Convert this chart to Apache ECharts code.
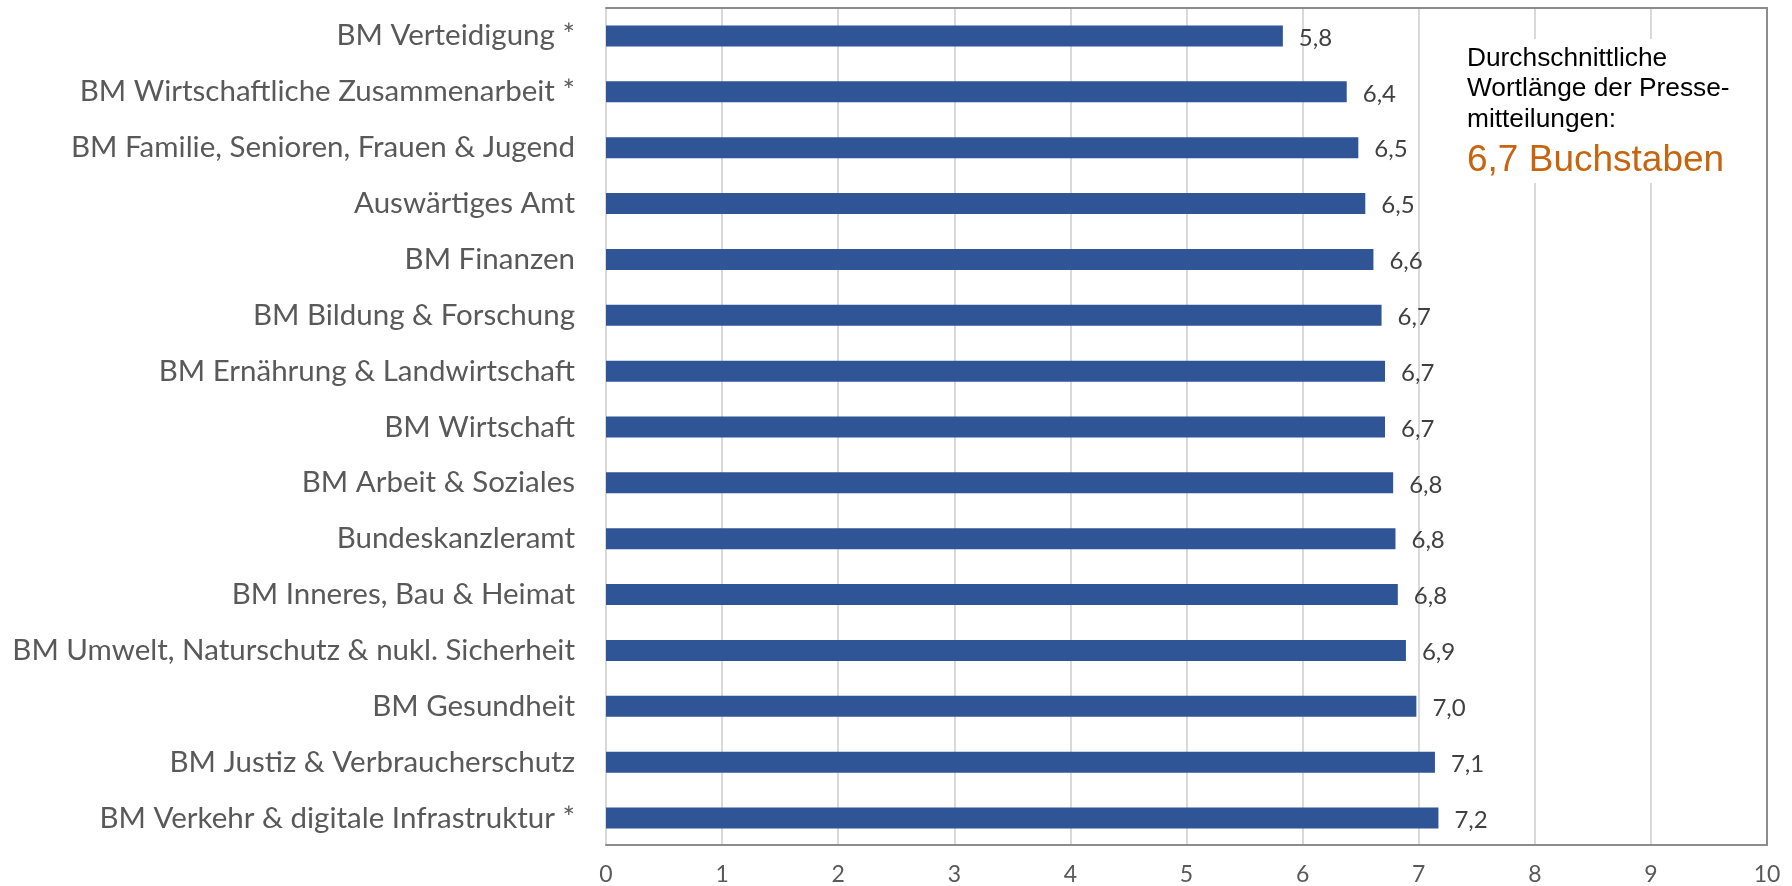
<!DOCTYPE html>
<html><head><meta charset="utf-8">
<script src="https://cdn.jsdelivr.net/npm/echarts@6/dist/echarts.min.js"></script>
<style>html,body{margin:0;padding:0;background:#fff}#c{width:1792px;height:886px}</style>
</head><body><div id="c"></div>
<script>
const categories = [
  'BM Verteidigung *',
  'BM Wirtschaftliche Zusammenarbeit *',
  'BM Familie, Senioren, Frauen & Jugend',
  'Auswärtiges Amt',
  'BM Finanzen',
  'BM Bildung & Forschung',
  'BM Ernährung & Landwirtschaft',
  'BM Wirtschaft',
  'BM Arbeit & Soziales',
  'Bundeskanzleramt',
  'BM Inneres, Bau & Heimat',
  'BM Umwelt, Naturschutz & nukl. Sicherheit',
  'BM Gesundheit',
  'BM Justiz & Verbraucherschutz',
  'BM Verkehr & digitale Infrastruktur *'
];
const values = [5.83, 6.38, 6.48, 6.54, 6.61, 6.68, 6.71, 6.71, 6.78, 6.80, 6.82, 6.89, 6.98, 7.14, 7.17];
const xMin = 0, xMax = 10, xStep = 1;
const noteLines = ['Durchschnittliche', 'Wortlänge der Presse-', 'mitteilungen:'];
const noteValue = '6,7 Buchstaben';

// fit category label font to reference width of longest label
const cv = document.createElement('canvas').getContext('2d');
cv.font = '100px Lato';
let maxW = 0;
categories.forEach(c => { maxW = Math.max(maxW, cv.measureText(c).width); });
const catFont = Math.round(562 / maxW * 100 * 10) / 10;

const chart = echarts.init(document.getElementById('c'), null, {renderer: 'canvas'});
const border = {show: true, onZero: false, lineStyle: {color: '#8c8c8c', width: 2}};
const noteY = [58.3, 88.3, 120];
const graphics = [{
  type: 'rect', z: 1, shape: {x: 1450, y: 39, width: 315, height: 144},
  style: {fill: '#fff'}
}];
noteLines.forEach((t, i) => graphics.push({
  type: 'text', z: 2, x: 1467, y: noteY[i],
  style: {text: t, fill: '#000', font: '26.3px "Liberation Sans", Arial, sans-serif', verticalAlign: 'middle'}
}));
graphics.push({
  type: 'text', z: 2, x: 1467, y: 160.7,
  style: {text: noteValue, fill: '#C7640F', font: '37px "Liberation Sans", Arial, sans-serif', verticalAlign: 'middle'}
});

chart.setOption({
  animation: false,
  backgroundColor: '#fff',
  grid: [
    {left: 606, right: 25, top: 8, height: 838},
    {left: 606, right: 25, top: 8, bottom: 31}
  ],
  xAxis: [
    {gridIndex: 0, type: 'value', min: xMin, max: xMax, show: false},
    {gridIndex: 1, type: 'value', min: xMin, max: xMax, interval: xStep, position: 'bottom',
      axisLine: border, axisTick: {show: false},
      axisLabel: {color: '#595959', fontFamily: 'Lato', fontSize: 23, margin: 18},
      splitLine: {show: true, lineStyle: {color: '#d9d9d9', width: 2}}},
    {gridIndex: 1, type: 'value', min: xMin, max: xMax, position: 'top',
      axisLine: border, axisTick: {show: false}, axisLabel: {show: false}, splitLine: {show: false}}
  ],
  yAxis: [
    {gridIndex: 0, type: 'category', data: categories, inverse: true,
      axisLine: {show: false}, axisTick: {show: false}, splitLine: {show: false},
      axisLabel: {color: '#595959', fontFamily: 'Lato', fontSize: catFont, margin: 31}},
    {gridIndex: 1, type: 'value', min: 0, max: 1, position: 'right',
      axisLine: border, axisTick: {show: false}, axisLabel: {show: false}, splitLine: {show: false}}
  ],
  series: [{
    type: 'bar', xAxisIndex: 0, yAxisIndex: 0, data: values, barWidth: 21, z: 3,
    itemStyle: {color: '#2F5597'},
    label: {show: true, position: 'right', distance: 16, offset: [0, 2], color: '#404040', fontFamily: 'Lato', fontSize: 24,
      formatter: p => p.value.toFixed(1).replace('.', ',')}
  }],
  graphic: graphics
});
</script></body></html>
